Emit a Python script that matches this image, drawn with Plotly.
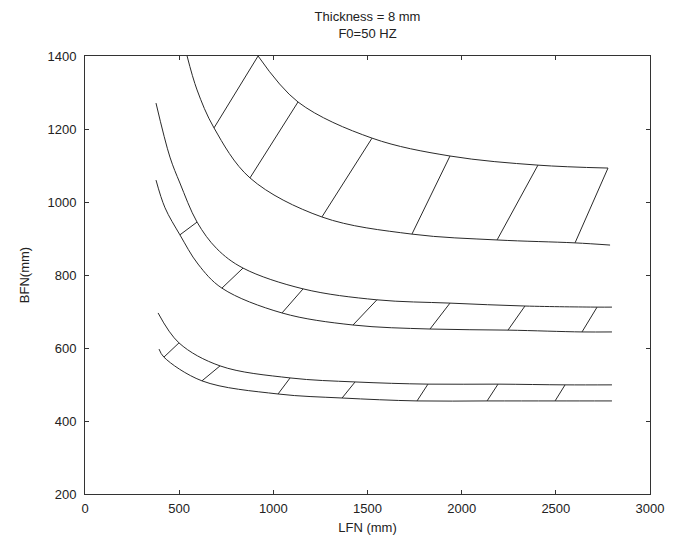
import plotly.graph_objects as go

# ---- data ----
title_lines = ["Thickness = 8 mm", "F0=50 HZ"]
x_label = "LFN (mm)"
y_label = "BFN(mm)"
x_ticks = [0, 500, 1000, 1500, 2000, 2500, 3000]
y_ticks = [200, 400, 600, 800, 1000, 1200, 1400]

# top band
top_inner_x = [542, 595, 685, 876, 1258, 1736, 2188, 2602, 2788]
top_inner_y = [1400, 1307, 1203, 1066, 959, 912, 896, 888, 882]
top_outer_x = [919, 1131, 1524, 1938, 2405, 2777]
top_outer_y = [1400, 1274, 1175, 1126, 1101, 1093]
top_hatch_x0 = [685, 876, 1258, 1736, 2188, 2602]
top_hatch_y0 = [1203, 1066, 959, 912, 896, 888]
top_hatch_x1 = [919, 1131, 1524, 1938, 2405, 2777]
top_hatch_y1 = [1400, 1274, 1175, 1126, 1101, 1093]

# middle band
mid_upper_x = [377, 451, 504, 595, 700, 839, 1158, 1550, 1938, 2336, 2719, 2798]
mid_upper_y = [1271, 1123, 1052, 945, 872, 819, 762, 732, 723, 715, 712, 712]
mid_lower_x = [377, 425, 504, 600, 727, 1046, 1423, 1832, 2246, 2639, 2798]
mid_lower_y = [1060, 984, 910, 830, 764, 696, 663, 652, 649, 644, 644]
mid_hatch_x0 = [504, 727, 1046, 1423, 1832, 2246, 2639]
mid_hatch_y0 = [910, 764, 696, 663, 652, 649, 644]
mid_hatch_x1 = [595, 839, 1158, 1550, 1938, 2336, 2719]
mid_hatch_y1 = [945, 819, 762, 732, 723, 715, 712]

# bottom band
bot_upper_x = [388, 499, 717, 1089, 1434, 1821, 2193, 2549, 2798]
bot_upper_y = [696, 614, 551, 518, 507, 501, 501, 499, 499]
bot_lower_x = [393, 419, 621, 1025, 1365, 1763, 2135, 2496, 2798]
bot_lower_y = [597, 575, 510, 474, 463, 455, 455, 455, 455]
bot_hatch_x0 = [419, 621, 1025, 1365, 1763, 2135, 2496]
bot_hatch_y0 = [575, 510, 474, 463, 455, 455, 455]
bot_hatch_x1 = [499, 717, 1089, 1434, 1821, 2193, 2549]
bot_hatch_y1 = [614, 551, 518, 507, 501, 501, 499]

LINE = dict(color="#2a2a2a", width=1)
FONT = dict(family="Liberation Sans, Arial", size=13, color="#222")

fig = go.Figure()


def add_curve(xs, ys):
    fig.add_trace(go.Scatter(x=xs, y=ys, mode="lines",
                             line=dict(LINE, shape="spline", smoothing=1.0),
                             showlegend=False, hoverinfo="skip"))


def add_hatch(x0, y0, x1, y1):
    hx, hy = [], []
    for a, b, c, d in zip(x0, y0, x1, y1):
        hx += [a, c, None]
        hy += [b, d, None]
    fig.add_trace(go.Scatter(x=hx, y=hy, mode="lines", line=LINE,
                             showlegend=False, hoverinfo="skip"))


add_curve(top_inner_x, top_inner_y)
add_curve(top_outer_x, top_outer_y)
add_hatch(top_hatch_x0, top_hatch_y0, top_hatch_x1, top_hatch_y1)
add_curve(mid_upper_x, mid_upper_y)
add_curve(mid_lower_x, mid_lower_y)
add_hatch(mid_hatch_x0, mid_hatch_y0, mid_hatch_x1, mid_hatch_y1)
add_curve(bot_upper_x, bot_upper_y)
add_curve(bot_lower_x, bot_lower_y)
add_hatch(bot_hatch_x0, bot_hatch_y0, bot_hatch_x1, bot_hatch_y1)

axis_common = dict(showgrid=False, zeroline=False, showline=True,
                   linecolor="#333", linewidth=1, mirror="ticks",
                   ticks="inside", ticklen=4, tickcolor="#333",
                   automargin=False, tickfont=FONT)

# page has an 8px body margin, so figure is 674x532 placed at (8, 8)
fig.update_layout(
    width=674, height=532,
    margin=dict(l=77, r=32, t=48, b=46),
    paper_bgcolor="white", plot_bgcolor="white",
    title=dict(text="<br>".join(title_lines), x=0.5334, xanchor="center",
               y=0.975, yanchor="top", font=FONT),
    xaxis=dict(axis_common, range=[0, 3000], tickvals=x_ticks,
               ticklabelstandoff=2,
               title=dict(text=x_label, standoff=8, font=FONT)),
    yaxis=dict(axis_common, range=[200, 1400], tickvals=y_ticks,
               ticklabelstandoff=5,
               title=dict(text=y_label, standoff=14, font=FONT)),
)

fig.write_html("out.html")
